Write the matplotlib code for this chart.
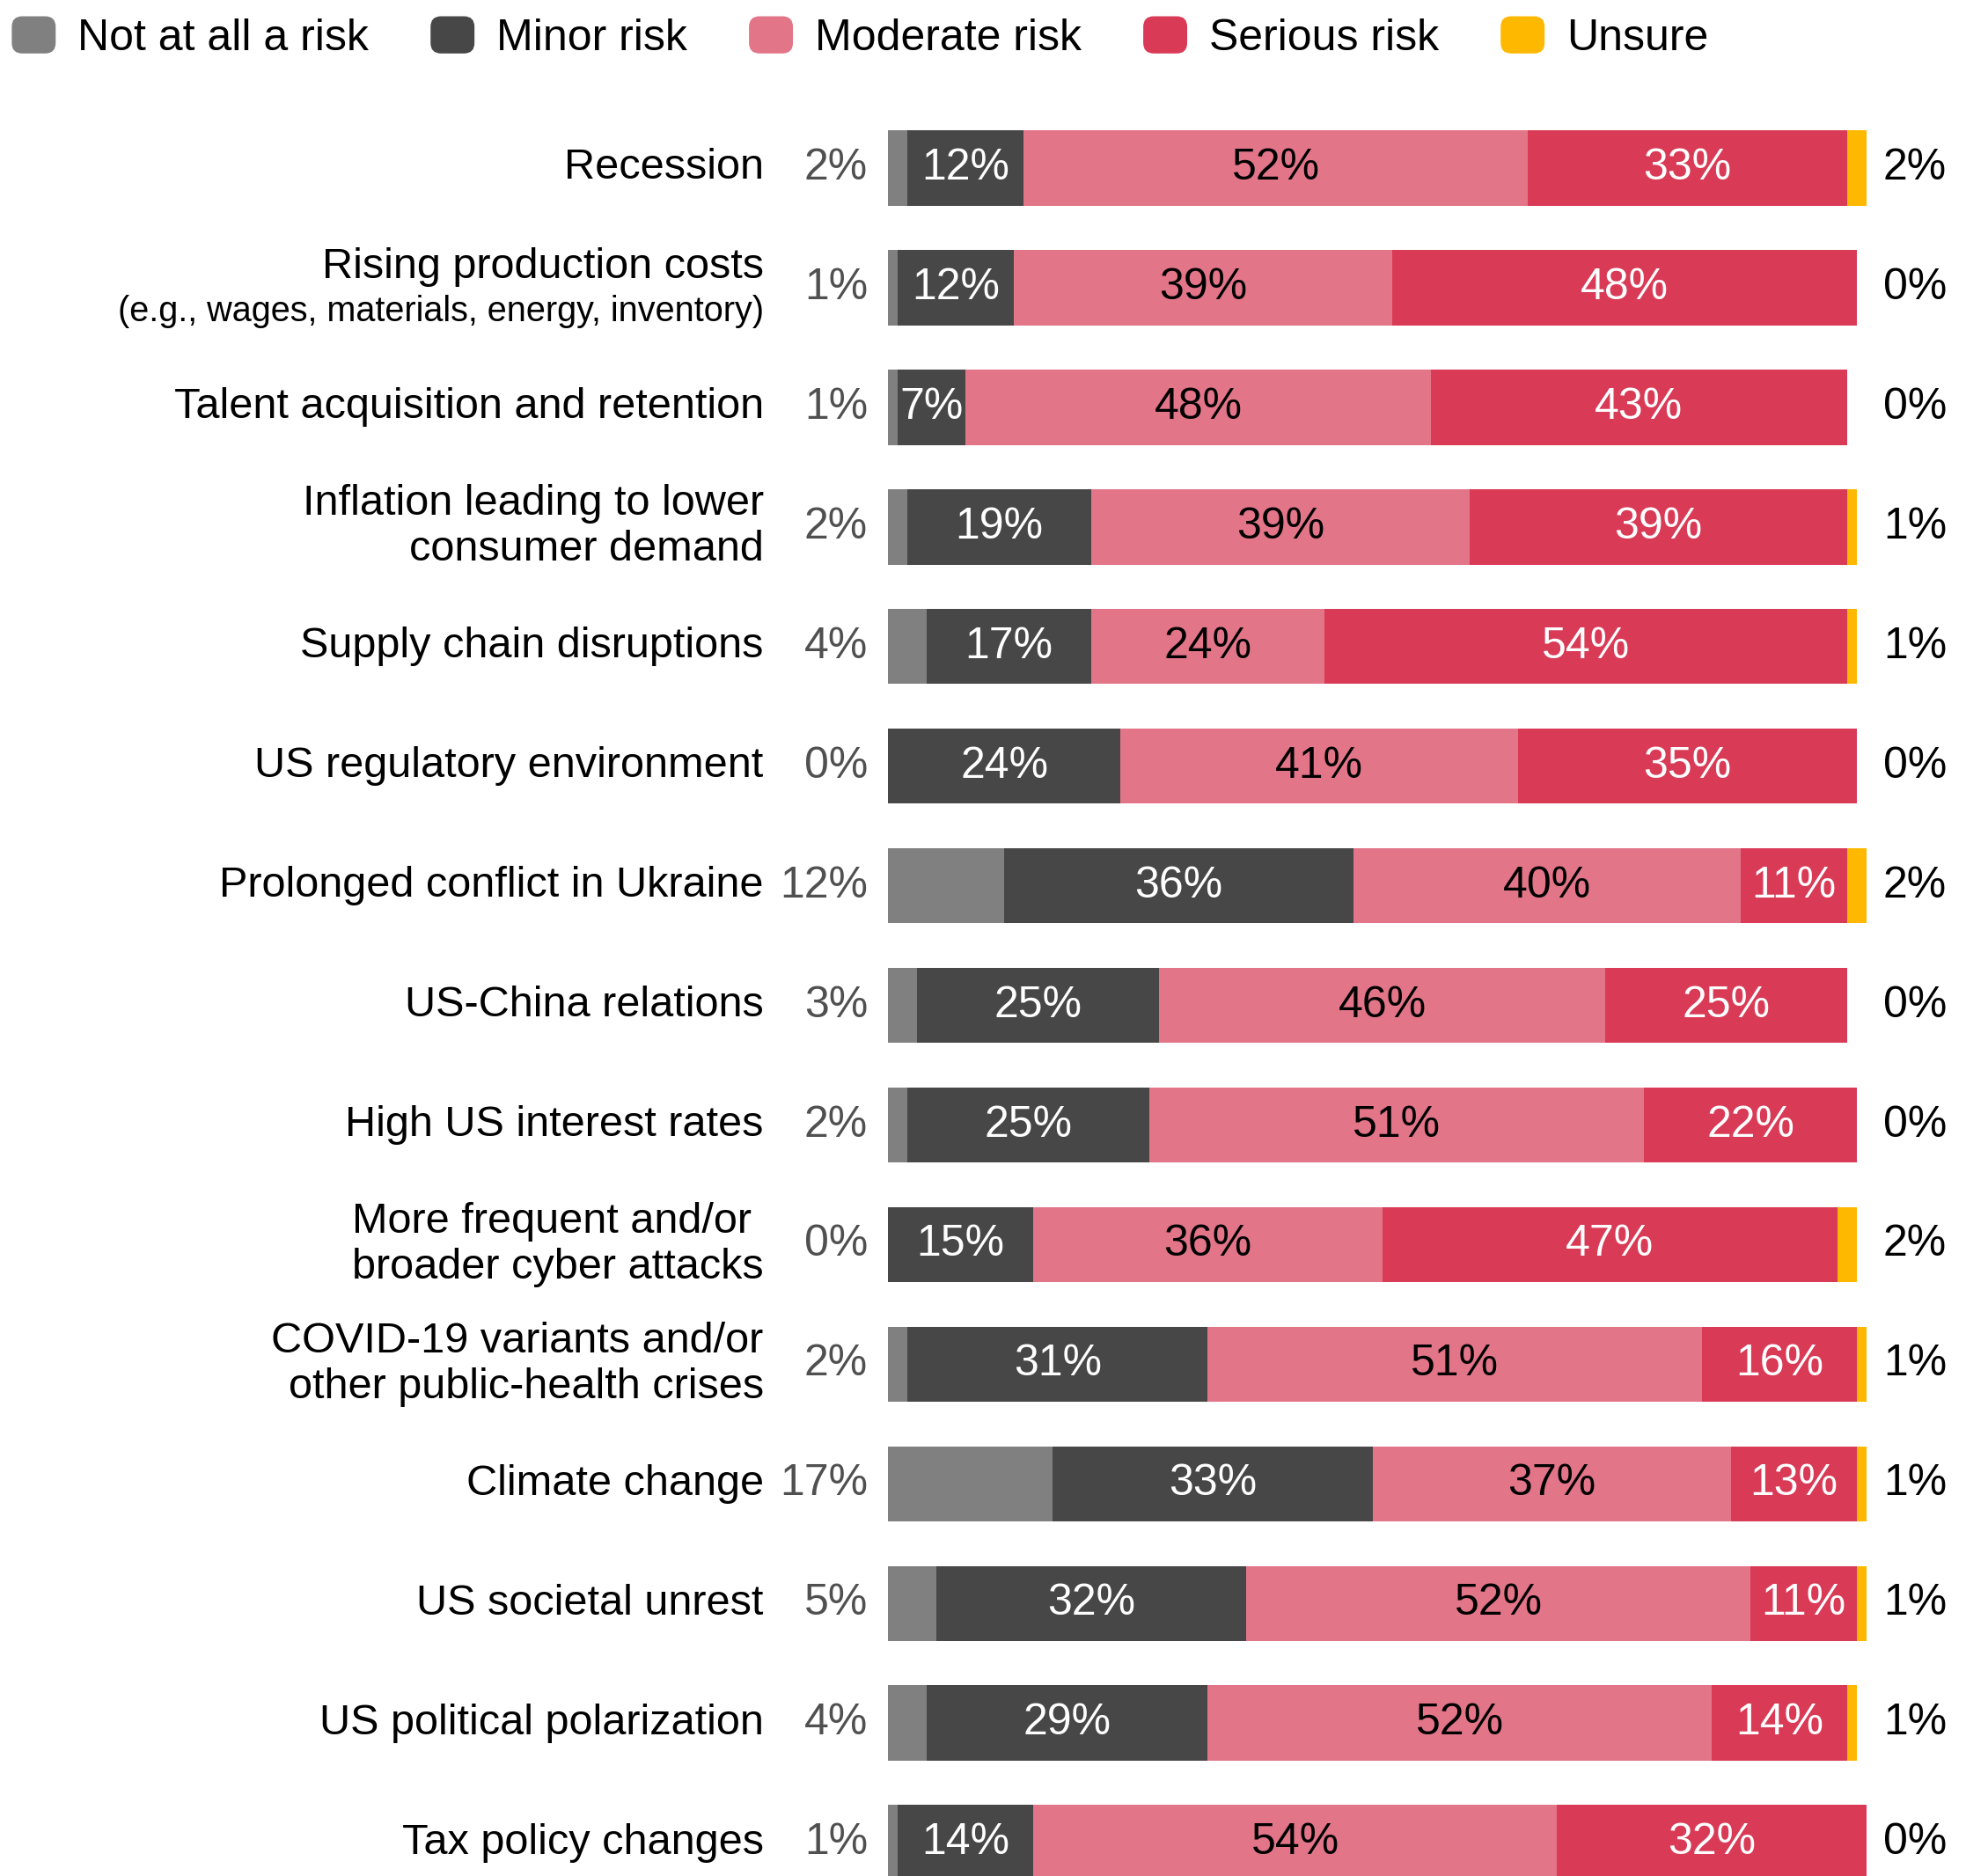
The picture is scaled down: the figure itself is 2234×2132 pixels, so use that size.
import numpy as np
import matplotlib
matplotlib.use('Agg')
import matplotlib.pyplot as plt
from matplotlib.patches import Patch, FancyBboxPatch
from matplotlib.legend_handler import HandlerPatch

plt.rcParams['font.family'] = ['Liberation Sans', 'DejaVu Sans']

# Data
categories = [
    'Recession',
    'Rising production costs',
    'Talent acquisition and retention',
    'Inflation leading to lower\nconsumer demand',
    'Supply chain disruptions',
    'US regulatory environment',
    'Prolonged conflict in Ukraine',
    'US-China relations',
    'High US interest rates',
    'More frequent and/or \nbroader cyber attacks',
    'COVID-19 variants and/or\nother public-health crises',
    'Climate change',
    'US societal unrest',
    'US political polarization',
    'Tax policy changes',
]
notes = ['', '(e.g., wages, materials, energy, inventory)'] + [''] * 13

series = ['Not at all a risk', 'Minor risk', 'Moderate risk', 'Serious risk', 'Unsure']
not_at_all = [2, 1, 1, 2, 4, 0, 12, 3, 2, 0, 2, 17, 5, 4, 1]
minor = [12, 12, 7, 19, 17, 24, 36, 25, 25, 15, 31, 33, 32, 29, 14]
moderate = [52, 39, 48, 39, 24, 41, 40, 46, 51, 36, 51, 37, 52, 52, 54]
serious = [33, 48, 43, 39, 54, 35, 11, 25, 22, 47, 16, 13, 11, 14, 32]
unsure = [2, 0, 0, 1, 1, 0, 2, 0, 0, 2, 1, 1, 1, 1, 0]

colors = ['#808080', '#474747', '#E27588', '#D93A56', '#FFB800']
inside_text = [None, 'white', 'black', 'white', None]

fs = 36
cat_fs = 35

fig = plt.figure(figsize=(22.34, 21.32), dpi=100)
# 11.01 px per percent, bars start at x=1009 px
ax = fig.add_axes([0.4517, -0.0142, 110 * 11.01 / 2234, 0.9566])

y = np.arange(len(categories))
left = np.zeros(len(categories))
for vals, col, tcol in zip([not_at_all, minor, moderate, serious, unsure], colors, inside_text):
    vals = np.array(vals, dtype=float)
    ax.barh(y, vals, left=left, height=0.63, color=col, linewidth=0)
    if tcol is not None:
        for yi, (l, v) in enumerate(zip(left, vals)):
            if v > 0:
                ax.text(l + v / 2, yi, f'{int(v)}%', ha='center', va='center',
                        color=tcol, fontsize=fs)
    left += vals

# category labels and outer percentages
for yi, (cat, note) in enumerate(zip(categories, notes)):
    if note:
        ax.text(-12.84, yi - 0.17, cat, ha='right', va='center', fontsize=cat_fs, clip_on=False)
        ax.text(-12.84, yi + 0.2, note, ha='right', va='center', fontsize=28.5, clip_on=False)
    else:
        ax.text(-12.84, yi, cat, ha='right', va='center', fontsize=cat_fs, clip_on=False)
    ax.text(-2.1, yi, f'{not_at_all[yi]}%', ha='right', va='center', fontsize=fs,
            color='#505050', clip_on=False)
    ax.text(102.7, yi, f'{unsure[yi]}%', ha='left', va='center', fontsize=fs,
            color='black', clip_on=False)

ax.set_xlim(0, 110)
ax.set_ylim(14.5, -0.5)
ax.axis('off')


# legend with rounded squares
def rounded(legend, orig_handle, xdescent, ydescent, width, height, fontsize):
    return FancyBboxPatch((-xdescent, -ydescent), width, height,
                          boxstyle='round,pad=0,rounding_size=8')


handles = [Patch(color=c) for c in colors]
fig.legend(handles, series, loc='upper left', bbox_to_anchor=(0.0063, 0.991),
           ncol=5, frameon=False, fontsize=fs, borderpad=0, borderaxespad=0,
           handlelength=0.97, handleheight=0.88, handletextpad=0.51, columnspacing=1.42,
           handler_map={Patch: HandlerPatch(patch_func=rounded)})

fig.savefig('out.png', dpi=100)
